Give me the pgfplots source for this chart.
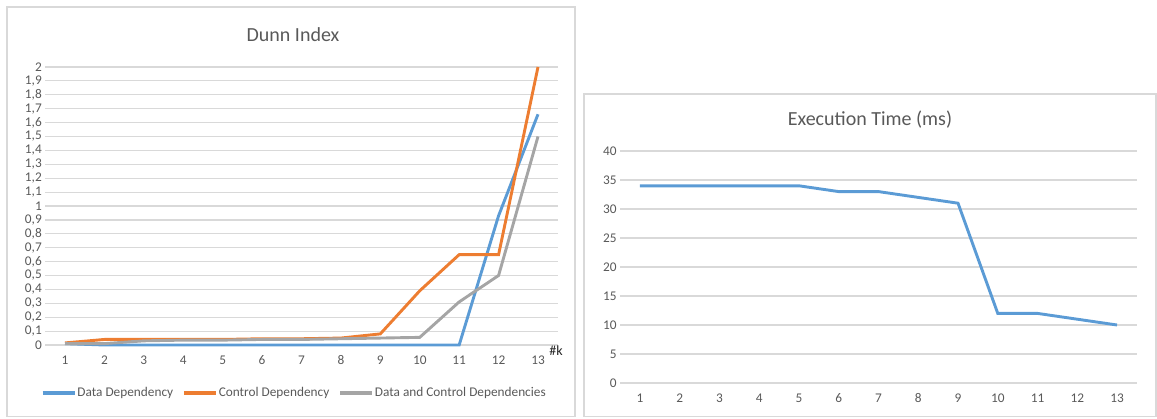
\documentclass[border=0pt]{standalone}
\usepackage{pgfplots}
\pgfplotsset{compat=1.18}
\usepackage{fontspec}
\setmainfont{Carlito}
\definecolor{exblue}{RGB}{91,155,213}
\definecolor{exorange}{RGB}{237,125,49}
\definecolor{exgray}{RGB}{165,165,165}
\definecolor{gridgray}{RGB}{217,217,217}
\definecolor{labelgray}{RGB}{89,89,89}
\begin{document}
\begin{tikzpicture}[x=1bp,y=1bp]
\useasboundingbox (0,0) rectangle (1157,418);
\draw[gridgray, line width=1.2bp] (7,1.5) rectangle (575,411);
\draw[gridgray, line width=1.2bp] (584,1.5) rectangle (1156,324);
\pgfplotsset{
  excel/.style={
    scale only axis,
    anchor=south west,
    xmin=0.5, xmax=13.5,
    xtick={1,...,13},
    axis line style={draw=none},
    ymajorgrids,
    major grid style={gridgray, line width=1.2bp},
    major tick length=0pt,
    tick label style={font=\fontsize{13.3bp}{15bp}\selectfont, text=labelgray},
    /pgf/number format/assume math mode=true,
    xticklabel style={yshift=-7bp},
    clip=false,
  }
}
% Dunn Index
\begin{axis}[excel,
  at={(45.3bp,73bp)}, width=512.4bp, height=278bp,
  ymin=0, ymax=2, ytick distance=0.1,
  yticklabel={\ifdim\tick pt=0pt 0\else\ifdim\tick pt=1pt 1\else\ifdim\tick pt=2pt 2\else\pgfmathprintnumber[fixed,fixed zerofill,precision=1,use comma]{\tick}\fi\fi\fi},
  legend style={at={(axis description cs:0.485,-0.173)}, anchor=center, draw=none,
    fill=none, font=\fontsize{13.3bp}{15bp}\selectfont, text=labelgray,
    legend columns=-1, inner sep=0pt,
    /tikz/every even column/.append style={column sep=8bp},
    nodes={inner sep=1bp}},
  legend image code/.code={\draw[#1, line width=3.6bp] (0bp,0bp) -- (32bp,0bp);},
]
\addplot[exblue, line width=2.9bp] coordinates {
  (1,0.01) (2,0.0) (3,0.0) (4,0.0) (5,0.0) (6,0.0) (7,0.0) (8,0.0)
  (9,0.0) (10,0.0) (11,0.0) (12,0.93) (13,1.66)};
\addlegendentry{Data Dependency}
\addplot[exorange, line width=2.9bp] coordinates {
  (1,0.015) (2,0.04) (3,0.04) (4,0.04) (5,0.04) (6,0.045) (7,0.045) (8,0.05)
  (9,0.08) (10,0.39) (11,0.65) (12,0.65) (13,2.0)};
\addlegendentry{Control Dependency}
\addplot[exgray, line width=2.9bp] coordinates {
  (1,0.01) (2,0.01) (3,0.03) (4,0.035) (5,0.035) (6,0.04) (7,0.04) (8,0.045)
  (9,0.05) (10,0.055) (11,0.31) (12,0.5) (13,1.5)};
\addlegendentry{Data and Control Dependencies}
\end{axis}
% Execution time
\begin{axis}[excel,
  at={(620.1bp,35bp)}, width=516.8bp, height=232bp,
  ymin=0, ymax=40, ytick distance=5,
]
\addplot[exblue, line width=2.9bp] coordinates {
  (1,34) (2,34) (3,34) (4,34) (5,34) (6,33) (7,33) (8,32)
  (9,31) (10,12) (11,12) (12,11) (13,10)};
\end{axis}
\node[text=labelgray, font=\fontsize{20bp}{24bp}\selectfont] at (293,383) {Dunn Index};
\node[text=labelgray, font=\fontsize{20bp}{24bp}\selectfont] at (870,298) {Execution Time (ms)};
\node[text=black!85, font=\fontsize{14bp}{16bp}\selectfont, inner sep=0pt] at (556,67) {\#k};
\end{tikzpicture}
\end{document}
